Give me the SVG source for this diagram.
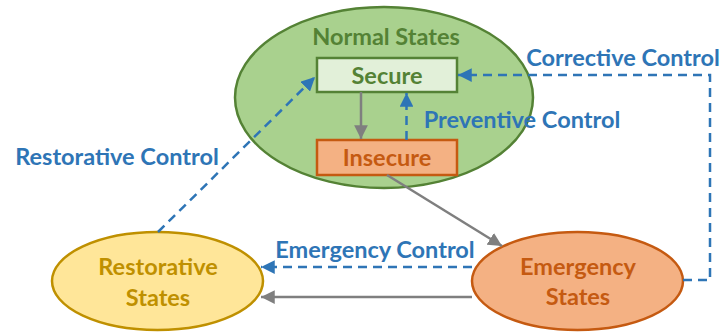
<svg xmlns="http://www.w3.org/2000/svg" width="722" height="335" viewBox="0 0 722 335">
<defs>
<marker id="ab" viewBox="0 0 10 10" refX="10" refY="5" markerWidth="5.5" markerHeight="5.5" orient="auto" markerUnits="strokeWidth"><path d="M0,0 L10,5 L0,10 Z" fill="#2E75B6"/></marker>
<marker id="ag" viewBox="0 0 10 10" refX="10" refY="5" markerWidth="5.5" markerHeight="5.5" orient="auto" markerUnits="strokeWidth"><path d="M0,0 L10,5 L0,10 Z" fill="#7F7F7F"/></marker>
</defs>
<style>
text{font-family:Lato,"Open Sans","Liberation Sans",sans-serif;font-weight:bold;font-size:23.5px;text-anchor:middle}
.blue{fill:#2E75B6}
.dash{fill:none;stroke:#2E75B6;stroke-width:2.5;stroke-dasharray:9,6;marker-end:url(#ab)}
.gray{fill:none;stroke:#7F7F7F;stroke-width:2.5;marker-end:url(#ag)}
</style>
<rect width="722" height="335" fill="#fff"/>
<g id="normal">
<ellipse cx="384" cy="97.5" rx="149" ry="90.5" fill="#A9D18E" stroke="#548235" stroke-width="2.5"/>
<text x="386" y="45" fill="#548235">Normal States</text>
</g>
<g id="secure">
<rect x="317" y="58" width="140" height="34" fill="#E2F0D9" stroke="#548235" stroke-width="2.5"/>
<text x="387" y="84" fill="#548235">Secure</text>
</g>
<g id="insecure">
<rect x="317" y="140" width="140" height="35" fill="#F4B183" stroke="#C55A11" stroke-width="2.5"/>
<text x="387" y="166" fill="#C55A11">Insecure</text>
</g>
<g id="emergency">
<ellipse cx="577.5" cy="281" rx="105.5" ry="49" fill="#F4B183" stroke="#C55A11" stroke-width="2.5"/>
<text x="578" y="275" fill="#C55A11">Emergency</text>
<text x="578" y="305" fill="#C55A11">States</text>
</g>
<g id="restorative">
<ellipse cx="157.5" cy="281" rx="105.5" ry="49" fill="#FFE699" stroke="#BF9000" stroke-width="2.5"/>
<text x="158" y="275" fill="#BF9000">Restorative</text>
<text x="158" y="306" fill="#BF9000">States</text>
</g>
<g id="connectors">
<line class="gray" x1="361" y1="92" x2="361" y2="139"/>
<line class="dash" x1="406.5" y1="140" x2="406.5" y2="93"/>
<polyline class="dash" points="683,280 710,280 710,75 458,75"/>
<line class="dash" x1="158" y1="232" x2="315" y2="77"/>
<line class="gray" x1="387" y1="175" x2="502" y2="246"/>
<line class="dash" x1="472" y1="267" x2="261" y2="267"/>
<line class="gray" x1="472" y1="297" x2="261" y2="297"/>
</g>
<g id="labels">
<text class="blue" x="623" y="66">Corrective Control</text>
<text class="blue" x="522" y="128">Preventive Control</text>
<text class="blue" x="117" y="165">Restorative Control</text>
<text class="blue" x="375" y="258">Emergency Control</text>
</g>
</svg>
